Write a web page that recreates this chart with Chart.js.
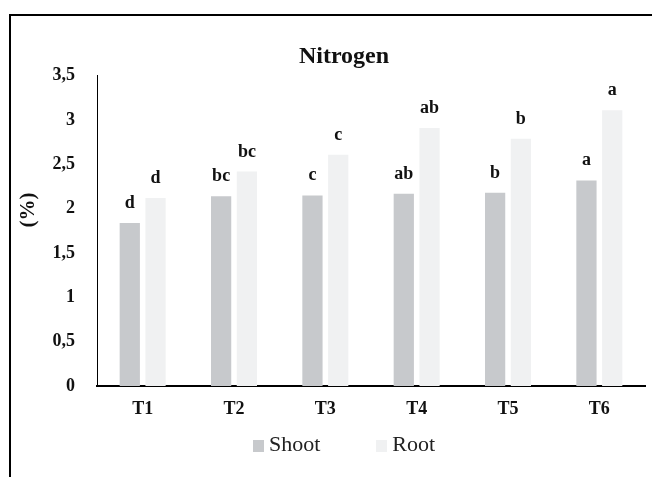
<!DOCTYPE html>
<html>
<head>
<meta charset="utf-8">
<script src="https://cdn.jsdelivr.net/npm/chart.js@4.4.0/dist/chart.umd.min.js"></script>
<style>
  body { margin: 0; background: #fff; overflow: hidden; }
  #wrap { position: relative; width: 652px; height: 477px; overflow: hidden; }
  #frame { position: absolute; left: 9px; top: 14px; width: 700px; height: 500px;
           border-left: 2px solid #000; border-top: 2px solid #000; }
  #chart { position: absolute; left: 0; top: 0; }
  #legend { position: absolute; left: 0; top: 433px; width: 688px; text-align: center;
            font: 22px 'Liberation Serif', 'Times New Roman', serif; line-height: 22px; color: #222; }
  #legend span.item { display: inline-block; margin: 0 28px; white-space: nowrap; }
  #legend span.box { display: inline-block; width: 11px; height: 12px; margin-right: 5px; vertical-align: -1px; }
</style>
</head>
<body>
<div id="wrap">
  <div id="frame"></div>
  <canvas id="chart" width="652" height="477"></canvas>
  <div id="legend"></div>
</div>
<script>
// Donnees
const categories = ['T1', 'T2', 'T3', 'T4', 'T5', 'T6'];
const shoot = [1.84, 2.14, 2.15, 2.17, 2.18, 2.32];
const root = [2.12, 2.42, 2.61, 2.91, 2.79, 3.11];
const shootLetters = ['d', 'bc', 'c', 'ab', 'b', 'a'];
const rootLetters = ['d', 'bc', 'c', 'ab', 'b', 'a'];
const yTicks = [0, 0.5, 1, 1.5, 2, 2.5, 3, 3.5];

const serif = "'Liberation Serif', 'Times New Roman', serif";
const ink = '#111';

// lettres au-dessus des barres + titre de l'axe Y
const lettersPlugin = {
    id: 'letters',
    afterDatasetsDraw(chart) {
        const ctx = chart.ctx;
        const sets = [shootLetters, rootLetters];
        ctx.save();
        ctx.fillStyle = ink;
        ctx.font = 'bold 18px ' + serif;
        ctx.textAlign = 'center';
        ctx.textBaseline = 'alphabetic';
        sets.forEach((letters, i) => {
            chart.getDatasetMeta(i).data.forEach((bar, j) => {
                ctx.fillText(letters[j], bar.x, bar.y - 15);
            });
        });
        // (%)
        ctx.translate(29, 210);
        ctx.rotate(-Math.PI / 2);
        ctx.font = 'bold 21px ' + serif;
        ctx.textBaseline = 'middle';
        ctx.fillText('(%)', 0, 0);
        ctx.restore();
    }
};

// legende HTML (espacement comme Excel)
const htmlLegend = {
    id: 'htmlLegend',
    afterUpdate(chart) {
        const box = document.getElementById('legend');
        box.innerHTML = '';
        chart.data.datasets.forEach(ds => {
            const item = document.createElement('span');
            item.className = 'item';
            const sq = document.createElement('span');
            sq.className = 'box';
            sq.style.background = ds.backgroundColor;
            item.appendChild(sq);
            item.appendChild(document.createTextNode(ds.label));
            box.appendChild(item);
        });
    }
};

const ctx = document.getElementById('chart').getContext('2d');
new Chart(ctx, {
    type: 'bar',
    data: {
        labels: categories,
        datasets: [
            {label: 'Shoot', data: shoot, backgroundColor: '#c7c9cc'},
            {label: 'Root', data: root, backgroundColor: '#f0f1f2'}
        ]
    },
    options: {
        responsive: false,
        animation: false,
        devicePixelRatio: 1,
        categoryPercentage: 0.564,
        barPercentage: 0.786,
        layout: {padding: {left: 43, right: 7, top: 0, bottom: 51}},
        plugins: {
            title: {
                display: true, text: 'Nitrogen', color: ink,
                font: {family: serif, size: 24, weight: 'bold'},
                padding: {top: 42, bottom: 5}
            },
            legend: {display: false},
            tooltip: {enabled: false}
        },
        scales: {
            x: {
                grid: {display: false, drawTicks: false},
                border: {color: '#000', width: 2},
                ticks: {color: ink, padding: 13, font: {family: serif, size: 18, weight: 'bold'}},
                afterFit: s => { s.height = 40; }
            },
            y: {
                min: 0, max: 3.5,
                grid: {display: false, drawTicks: false},
                border: {color: '#000', width: 1},
                ticks: {
                    stepSize: 0.5, color: ink, padding: 22,
                    font: {family: serif, size: 18, weight: 'bold'},
                    callback: v => yTicks.includes(v) ? String(v).replace('.', ',') : ''
                },
                afterFit: s => { s.width = 54; }
            }
        }
    },
    plugins: [lettersPlugin, htmlLegend]
});
</script>
</body>
</html>
